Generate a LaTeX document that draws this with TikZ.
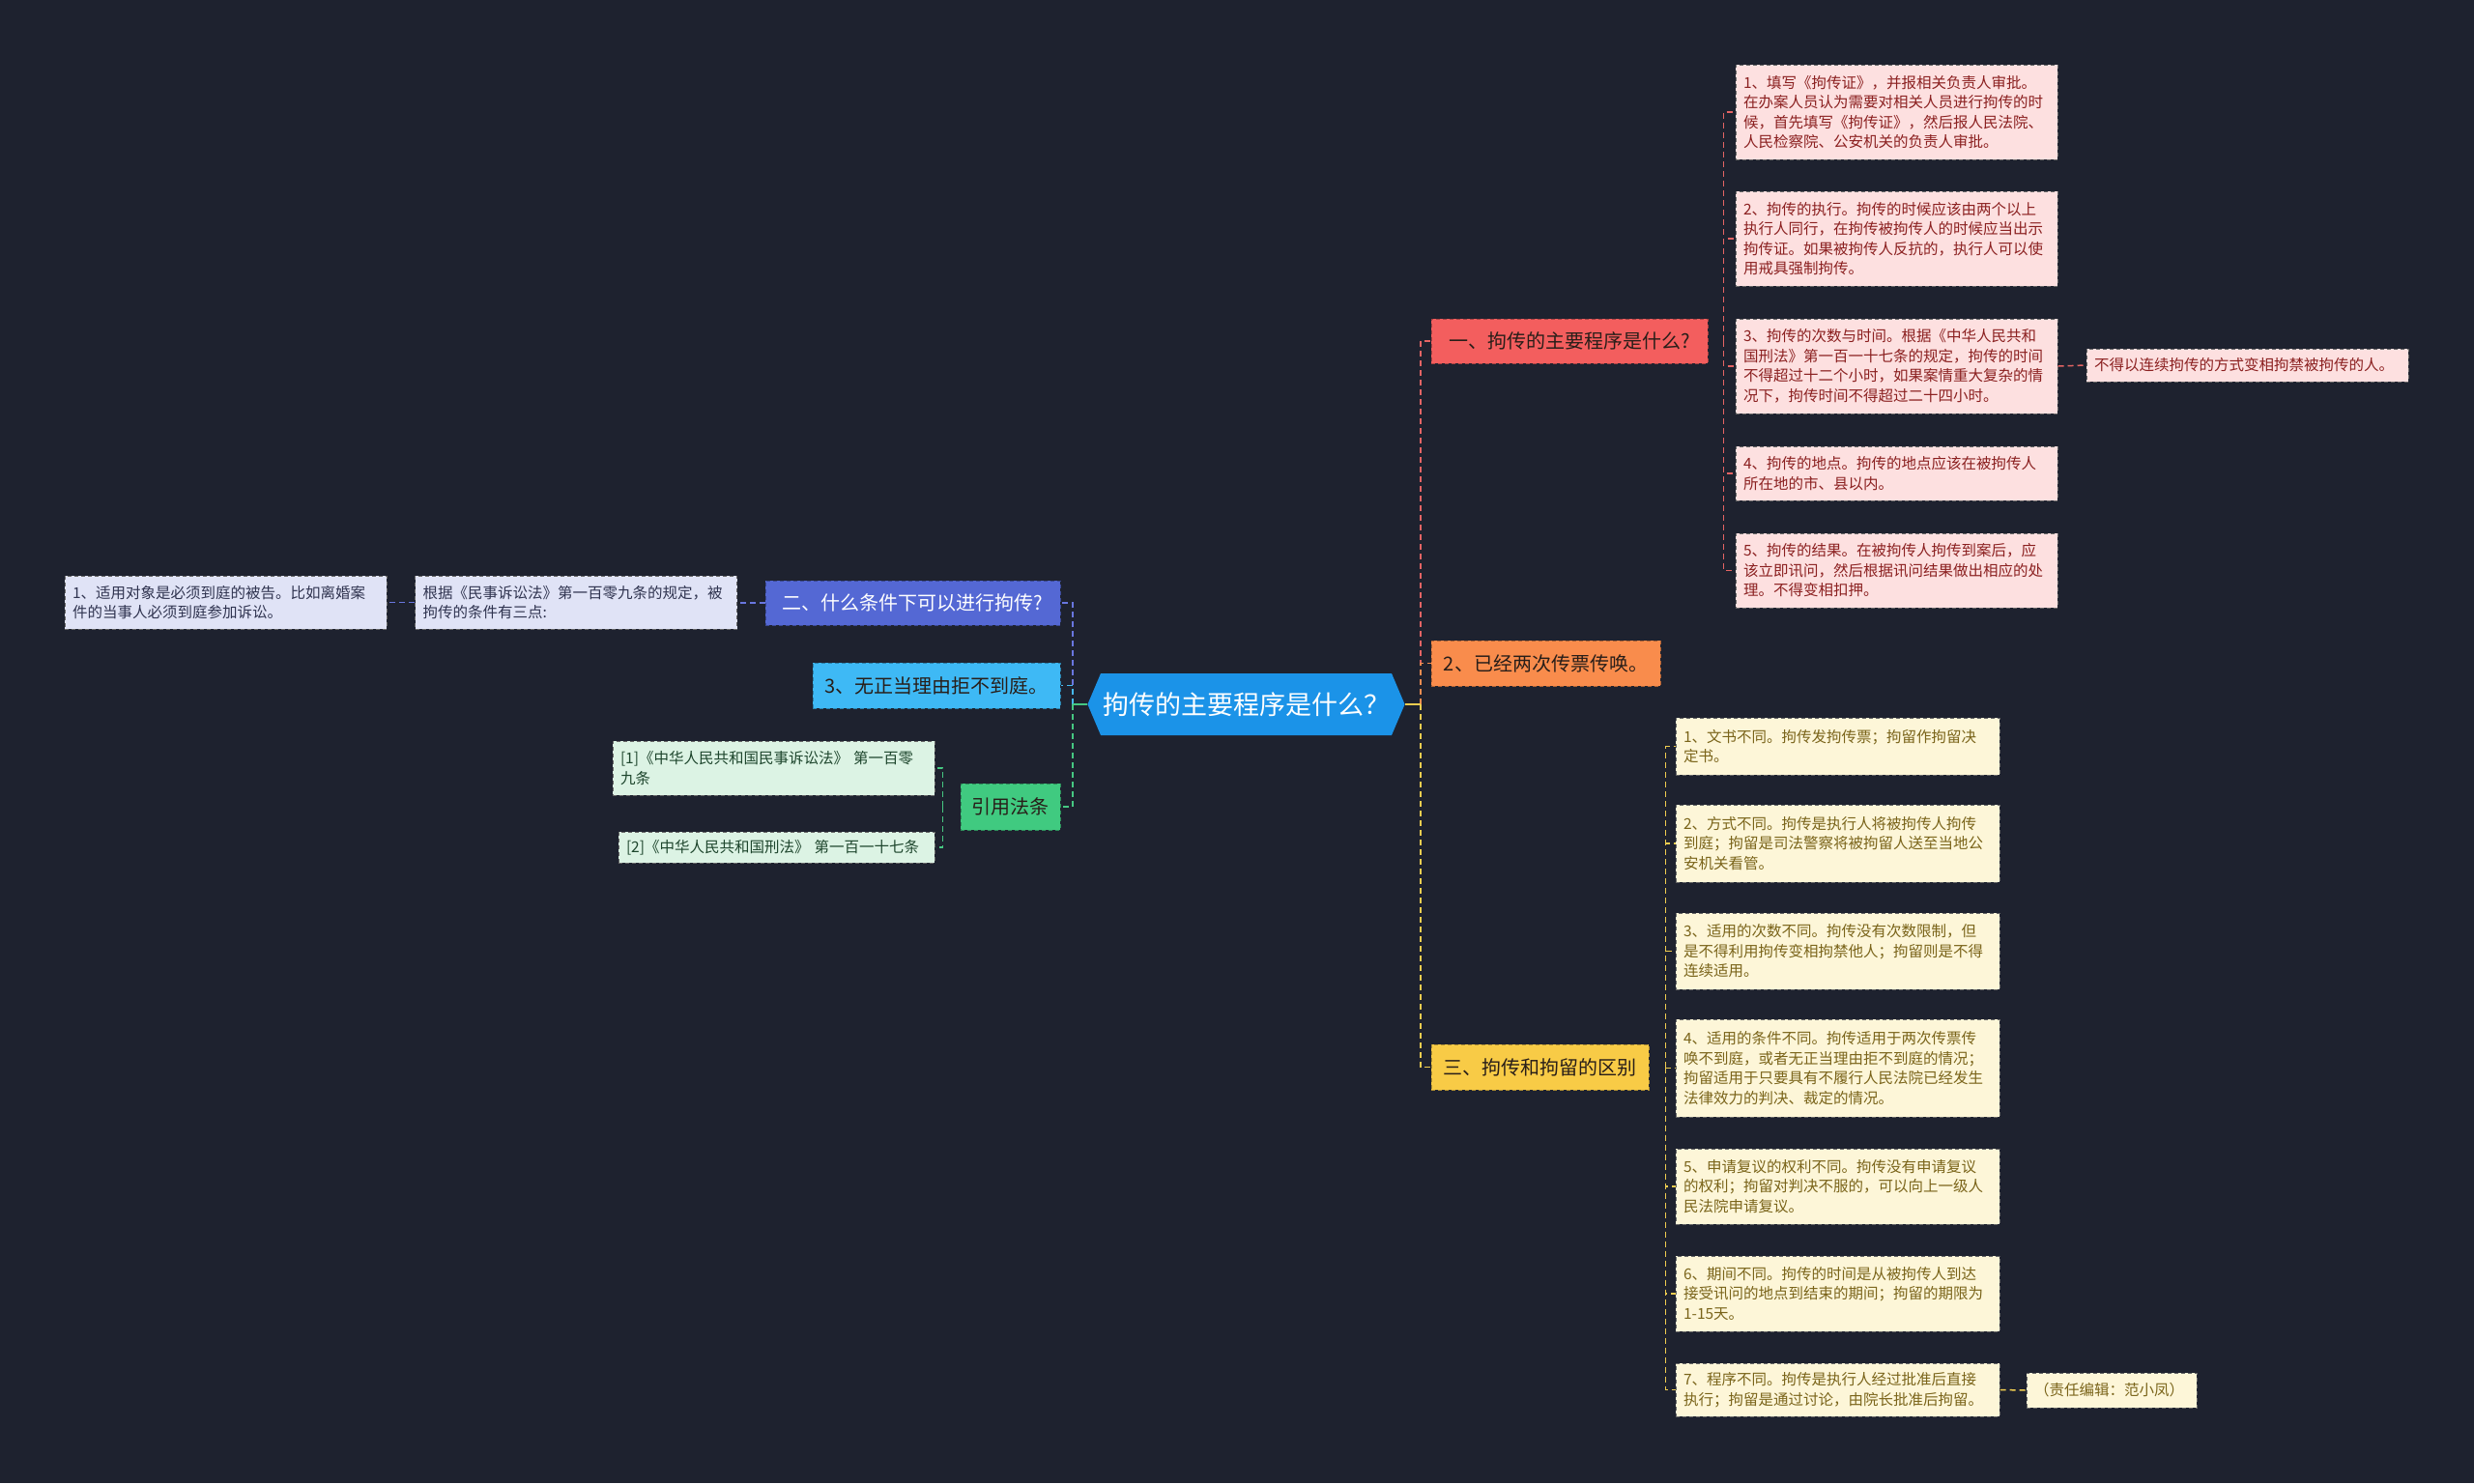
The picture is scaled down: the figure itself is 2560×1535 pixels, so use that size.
\documentclass[tikz,border=0pt]{standalone}
\usepackage{fontspec}
\setmainfont{Noto Sans CJK SC}
\usetikzlibrary{shapes.symbols}

\definecolor{bg}{RGB}{30,34,47}
\definecolor{cblue}{RGB}{27,147,232}
\definecolor{lred}{RGB}{243,94,94}
\definecolor{lorange}{RGB}{249,140,76}
\definecolor{lyellow}{RGB}{248,203,70}
\definecolor{lindigo}{RGB}{84,104,212}
\definecolor{lcyan}{RGB}{62,185,245}
\definecolor{lgreen}{RGB}{64,202,128}
\definecolor{fred}{RGB}{253,224,224}
\definecolor{tred}{RGB}{139,32,32}
\definecolor{fyel}{RGB}{253,246,216}
\definecolor{tyel}{RGB}{122,100,26}
\definecolor{flav}{RGB}{224,227,246}
\definecolor{tlav}{RGB}{48,52,80}
\definecolor{fgrn}{RGB}{220,243,228}
\definecolor{tgrn}{RGB}{30,70,45}
\definecolor{tdark}{RGB}{40,30,25}
\definecolor{er}{RGB}{228,100,100}
\definecolor{eo}{RGB}{240,140,80}
\definecolor{ey}{RGB}{240,205,80}
\definecolor{ei}{RGB}{105,118,222}
\definecolor{ec}{RGB}{70,185,240}
\definecolor{eg}{RGB}{70,200,130}

\tikzset{
  boxbase/.style={rectangle, dash pattern=on 4pt off 3pt, line width=1pt, inner xsep=8pt, inner ysep=0pt},
  lvone/.style={boxbase, font=\fontsize{20}{24}\selectfont, align=center, minimum height=46pt},
  leafbase/.style={boxbase, draw=black!60, font=\fontsize{15.5}{20.5}\selectfont, align=left},
  leafR/.style={leafbase, fill=fred, text=tred, minimum width=333pt, text width=317pt},
  leafY/.style={leafbase, fill=fyel, text=tyel, minimum width=335pt, text width=319pt},
  leafL/.style={leafbase, fill=flav, text=tlav, minimum width=333pt, text width=317pt},
  leafG/.style={leafbase, fill=fgrn, text=tgrn, text width=317pt},
  edge/.style={line width=1.5pt, dash pattern=on 6pt off 4pt},
  stub/.style={line width=1.5pt}
}

\begin{document}
\begin{tikzpicture}[x=1pt,y=-1pt]
\fill[bg] (0,0) rectangle (2560,1535);
\useasboundingbox (0,0) rectangle (2560,1535);

% central
\node[signal, signal to=east and west, signal pointer angle=134, fill=cblue, text=white,
      minimum width=325pt, minimum height=64pt, inner sep=2pt,
      font=\fontsize{27}{32}\selectfont] (c) at (1289.5,729) {拘传的主要程序是什么？};

% left level one
\node[lvone, fill=lindigo, draw=lindigo!70!black, text=white, minimum width=305pt] (n2) at (944.5,624) {二、什么条件下可以进行拘传?};
\node[lvone, fill=lcyan, draw=lcyan!70!black, text=tdark, minimum width=256pt, minimum height=47pt] (c3) at (969,709.5) {3、无正当理由拒不到庭。};
\node[lvone, fill=lgreen, draw=lgreen!70!black, text=tdark, minimum width=103pt, minimum height=48pt] (law) at (1045.5,835) {引用法条};

% left leaves
\node[leafL, minimum height=55pt] (basis) at (596,623.5) {根据《民事诉讼法》第一百零九条的规定，被\\拘传的条件有三点:};
\node[leafL, minimum height=55pt] (cond1) at (233.5,623.5) {1、适用对象是必须到庭的被告。比如离婚案\\件的当事人必须到庭参加诉讼。};
\node[leafG, minimum width=333pt, minimum height=56pt] (ref1) at (800.5,795) {[1]《中华人民共和国民事诉讼法》 第一百零\\九条};
\node[leafG, minimum width=327pt, text width=311pt, minimum height=32pt] (ref2) at (803.5,877) {[2]《中华人民共和国刑法》 第一百一十七条};

% right level one
\node[lvone, fill=lred, draw=lred!70!black, text=tdark, minimum width=286pt] (r) at (1624,353) {一、拘传的主要程序是什么?};
\node[lvone, fill=lorange, draw=lorange!70!black, text=tdark, minimum width=237pt, minimum height=47pt] (o) at (1599.5,686.5) {2、已经两次传票传唤。};
\node[lvone, fill=lyellow, draw=lyellow!70!black, text=tdark, minimum width=225pt, minimum height=47pt] (yl) at (1593.5,1104.5) {三、拘传和拘留的区别};

% red leaves
\node[leafR, minimum height=98pt] (r1) at (1962.5,116) {1、填写《拘传证》，并报相关负责人审批。\\在办案人员认为需要对相关人员进行拘传的时\\候，首先填写《拘传证》，然后报人民法院、\\人民检察院、公安机关的负责人审批。};
\node[leafR, minimum height=98pt] (r2) at (1962.5,247) {2、拘传的执行。拘传的时候应该由两个以上\\执行人同行，在拘传被拘传人的时候应当出示\\拘传证。如果被拘传人反抗的，执行人可以使\\用戒具强制拘传。};
\node[leafR, minimum height=98pt] (r3) at (1962.5,379) {3、拘传的次数与时间。根据《中华人民共和\\国刑法》第一百一十七条的规定，拘传的时间\\不得超过十二个小时，如果案情重大复杂的情\\况下，拘传时间不得超过二十四小时。};
\node[leafR, minimum height=56pt] (r4) at (1962.5,490) {4、拘传的地点。拘传的地点应该在被拘传人\\所在地的市、县以内。};
\node[leafR, minimum height=77pt] (r5) at (1962.5,590.5) {5、拘传的结果。在被拘传人拘传到案后，应\\该立即讯问，然后根据讯问结果做出相应的处\\理。不得变相扣押。};
\node[leafR, minimum height=34pt] (rx) at (2325.5,378) {不得以连续拘传的方式变相拘禁被拘传的人。};

% yellow leaves
\node[leafY, minimum height=59pt] (y1) at (1901.5,772.5) {1、文书不同。拘传发拘传票；拘留作拘留决\\定书。};
\node[leafY, minimum height=80pt] (y2) at (1901.5,873) {2、方式不同。拘传是执行人将被拘传人拘传\\到庭；拘留是司法警察将被拘留人送至当地公\\安机关看管。};
\node[leafY, minimum height=79pt] (y3) at (1901.5,984.5) {3、适用的次数不同。拘传没有次数限制，但\\是不得利用拘传变相拘禁他人；拘留则是不得\\连续适用。};
\node[leafY, minimum height=101pt] (y4) at (1901.5,1105.5) {4、适用的条件不同。拘传适用于两次传票传\\唤不到庭，或者无正当理由拒不到庭的情况；\\拘留适用于只要具有不履行人民法院已经发生\\法律效力的判决、裁定的情况。};
\node[leafY, minimum height=78pt] (y5) at (1901.5,1228) {5、申请复议的权利不同。拘传没有申请复议\\的权利；拘留对判决不服的，可以向上一级人\\民法院申请复议。};
\node[leafY, minimum height=78pt] (y6) at (1901.5,1339) {6、期间不同。拘传的时间是从被拘传人到达\\接受讯问的地点到结束的期间；拘留的期限为\\1-15天。};
\node[leafY, minimum height=55pt] (y7) at (1901.5,1438.5) {7、程序不同。拘传是执行人经过批准后直接\\执行；拘留是通过讨论，由院长批准后拘留。};
\node[leafY, minimum width=176pt, text width=160pt, minimum height=36pt] (yx) at (2185,1439) {（责任编辑：范小凤）};

% connectors: centre to level one
\draw[edge, er] ([xshift=16pt]c.east) |- (r.west);
\draw[edge, eo] ([xshift=16pt]c.east) |- (o.west);
\draw[edge, ey] ([xshift=16pt]c.east) |- (yl.west);
\draw[stub, ey] (c.east) -- ([xshift=16pt]c.east);

\draw[edge, ei] ([xshift=-15pt]c.west) |- (n2.east);
\draw[edge, ec] ([xshift=-15pt]c.west) |- (c3.east);
\draw[edge, eg] ([xshift=-15pt]c.west) |- (law.east);
\draw[stub, eg] (c.west) -- ([xshift=-15pt]c.west);

% red branch
\foreach \n in {r1,r2,r3,r4,r5}
  \draw[edge, er] ([xshift=16pt]r.east) |- (\n.west);
\draw[edge, er] (r3.east) -- (rx.west);

% yellow branch
\foreach \n in {y1,y2,y3,y4,y5,y6,y7}
  \draw[edge, ey] ([xshift=17pt]yl.east) |- (\n.west);
\draw[edge, ey] (y7.east) -- (yx.west);

% indigo branch
\draw[edge, ei] (n2.west) -- (n2.west -| basis.east);
\draw[edge, ei] (basis.west) -- (basis.west -| cond1.east);

% green branch
\draw[edge, eg] ([xshift=-18pt]law.west) |- (ref1.east);
\draw[edge, eg] ([xshift=-18pt]law.west) |- (ref2.east);
\end{tikzpicture}
\end{document}
